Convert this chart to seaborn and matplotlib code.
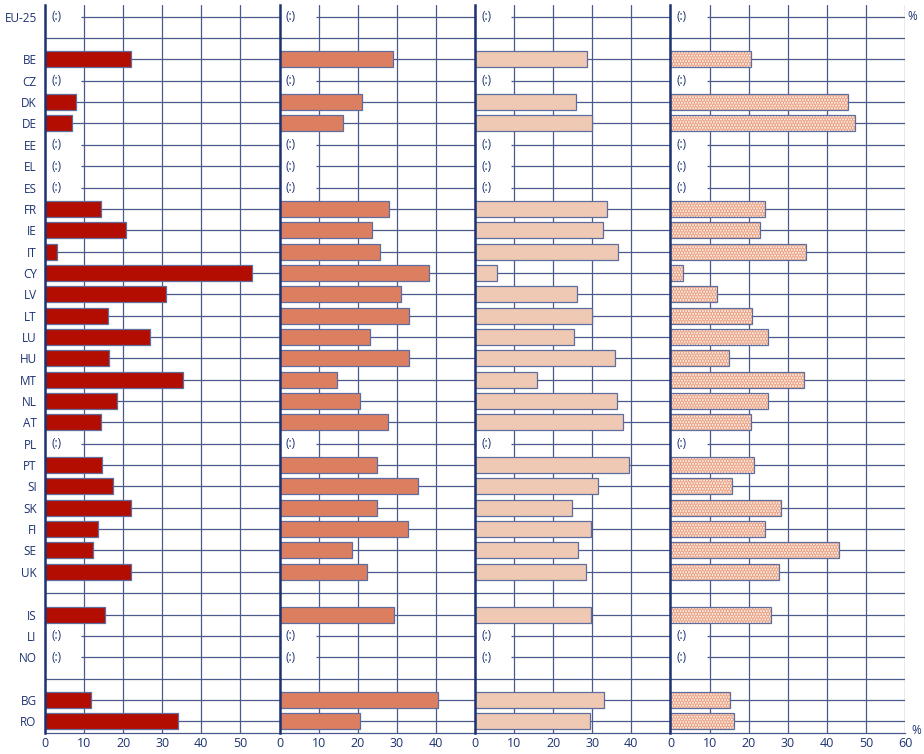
import matplotlib
matplotlib.use("Agg")
import matplotlib.pyplot as plt
import seaborn as sns
import pandas as pd
import numpy as np

# ---------------- data ----------------
countries = ["EU-25", "BE", "CZ", "DK", "DE", "EE", "EL", "ES", "FR", "IE", "IT",
             "CY", "LV", "LT", "LU", "HU", "MT", "NL", "AT", "PL", "PT", "SI",
             "SK", "FI", "SE", "UK", "IS", "LI", "NO", "BG", "RO"]
gap_after = ["EU-25", "UK", "NO"]

series1 = [None, 21.9, None, 8.0, 6.8, None, None, None, 14.3, 20.8, 3.0,
           53.0, 30.9, 16.2, 26.9, 16.4, 35.2, 18.4, 14.2, None, 14.6, 17.5,
           22.1, 13.6, 12.3, 22.0, 15.4, None, None, 11.7, 34.0]
series2 = [None, 29.0, None, 21.1, 16.2, None, None, None, 28.0, 23.7, 25.7,
           38.3, 31.1, 33.1, 23.2, 33.1, 14.7, 20.5, 27.7, None, 24.9, 35.4,
           24.9, 32.9, 18.6, 22.3, 29.2, None, None, 40.5, 20.7]
series3 = [None, 28.6, None, 25.8, 29.9, None, None, None, 33.7, 32.8, 36.7,
           5.7, 26.1, 29.9, 25.2, 35.7, 15.9, 36.2, 37.8, None, 39.3, 31.5,
           24.9, 29.6, 26.3, 28.3, 29.7, None, None, 33.0, 29.4]
series4 = [None, 20.5, None, 45.4, 47.1, None, None, None, 24.2, 22.8, 34.7,
           3.1, 12.0, 20.9, 24.9, 15.1, 34.2, 25.0, 20.5, None, 21.4, 15.7,
           28.3, 24.1, 43.2, 27.8, 25.6, None, None, 15.2, 16.2]

panel_max = [60, 50, 50, 60]
panel_ticks = [[0, 10, 20, 30, 40, 50], [0, 10, 20, 30, 40],
               [0, 10, 20, 30, 40], [0, 10, 20, 30, 40, 50, 60]]
missing_label = "(:)"

# ---------------- styling ----------------
sns.set_theme(style="white")
plt.rcParams['font.family'] = ['Open Sans', 'DejaVu Sans']
plt.rcParams['hatch.linewidth'] = 1.8

navy = "#1d3272"
grid_c = "#4a5a8c"
edge_c = "#5d6d9e"
fills = ["#b30c00", "#dc7f61", "#f0c9b5", "white"]
dot_c = "#e99a78"

# row order with blank gap rows
rows = []
labels = []
for c in countries:
    rows.append(c)
    labels.append(c)
    if c in gap_after:
        rows.append("gap_" + c)
        labels.append("")

all_series = [series1, series2, series3, series4]

W, H = 924, 754
fig = plt.figure(figsize=(W / 100, H / 100), dpi=100)
x0_px, x1_px = 45, 905
top_px, bot_px = 5, 733
ppu = (x1_px - x0_px) / sum(panel_max)

axes = []
left = x0_px
for i, (vals, pmax) in enumerate(zip(all_series, panel_max)):
    wpx = pmax * ppu
    ax = fig.add_axes([left / W, 1 - bot_px / H, wpx / W, (bot_px - top_px) / H])
    left += wpx
    axes.append(ax)

    df = pd.DataFrame({"row": countries, "value": vals}).dropna()
    if i < 3:
        sns.barplot(data=df, y="row", x="value", order=rows, orient="h",
                    color=fills[i], edgecolor=edge_c, linewidth=0.9,
                    width=0.75, saturation=1, ax=ax, zorder=3)
    else:
        sns.barplot(data=df, y="row", x="value", order=rows, orient="h",
                    color="white", edgecolor=dot_c, linewidth=0, hatch="......",
                    width=0.75, saturation=1, ax=ax, zorder=3)
        sns.barplot(data=df, y="row", x="value", order=rows, orient="h",
                    facecolor="none", edgecolor=edge_c, linewidth=0.9,
                    width=0.75, saturation=1, ax=ax, zorder=4)

    ax.set_xlim(0, pmax)
    ax.set_ylim(len(rows) - 0.45, -0.55)

    # horizontal grid lines per row (shortened where the "(:)" mark sits)
    for r_i, r in enumerate(rows):
        missing = (r in countries) and (vals[countries.index(r)] is None)
        ax.hlines(r_i, 9.3 if missing else 0, pmax, color=grid_c, lw=0.9, zorder=1)
        if missing:
            ax.text(1.6, r_i, missing_label, ha="left", va="center",
                    fontsize=8.5, color=navy, zorder=5)
    # vertical grid lines
    for t in range(10, pmax + 1, 10):
        ax.axvline(t, color=grid_c, lw=0.9, zorder=1)

    ax.set_xticks(panel_ticks[i])
    ax.set_xticklabels([str(t) for t in panel_ticks[i]], fontsize=9, color=navy)
    ax.tick_params(axis="x", length=0, pad=3)
    ax.set_xlabel("")
    ax.set_ylabel("")
    if i == 0:
        ax.set_yticks(range(len(rows)))
        ax.set_yticklabels(labels, fontsize=8.5, color=navy)
        ax.tick_params(axis="y", length=0, pad=6)
    else:
        ax.set_yticks([])
    for s in ["top", "right"]:
        ax.spines[s].set_visible(False)
    ax.spines["left"].set_color(navy)
    ax.spines["left"].set_linewidth(1.8)
    ax.spines["left"].set_zorder(6)
    ax.spines["bottom"].set_color(grid_c)
    ax.spines["bottom"].set_linewidth(0.9)
    ax.patch.set_alpha(0)

fig.text(912 / W, 1 - 16 / H, "%", fontsize=8.5, color=navy, ha="center", va="center")
fig.text(916 / W, 1 - 731 / H, "%", fontsize=8.5, color=navy, ha="center", va="center")

fig.savefig("out.png", dpi=100)
